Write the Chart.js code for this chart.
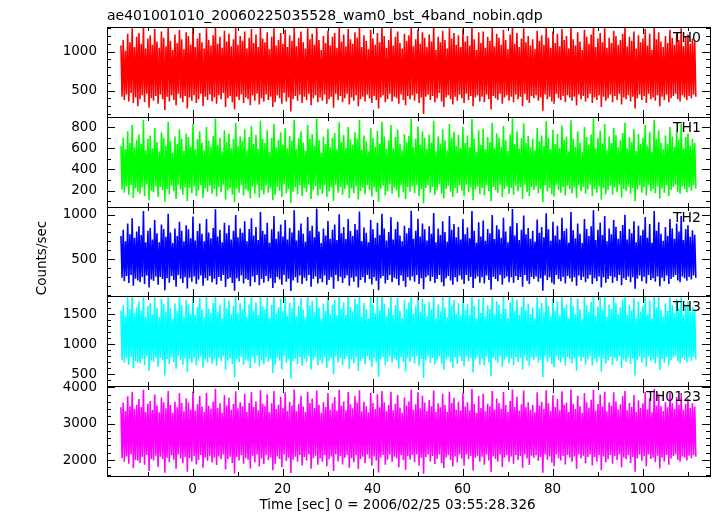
<!DOCTYPE html>
<html>
<head>
<meta charset="utf-8">
<title>ae401001010 WAM light curve</title>
<script src="https://cdn.jsdelivr.net/npm/chart.js"></script>
<style>
  html, body { margin: 0; padding: 0; background: #fff; }
  #lc { display: block; }
</style>
</head>
<body>
<canvas id="lc" width="717" height="516"></canvas>
<script>
// light curve samples: time of first sample (sec) and spacing
// values are read as upper / lower envelope pairs of the dense curve
const binStart = -15.9;
const binWidth = 0.25;

const bandNames = ['TH0', 'TH1', 'TH2', 'TH3', 'TH0123'];
const bandColors = ['#ff0000', '#00ff00', '#0000ff', '#00ffff', '#ff00ff'];

// counts/sec
const th0 = [
  1080, 420, 1150, 380, 1010, 450, 1230, 360, 1120, 470, 1300, 340, 1060, 410, 1190, 300,
  1240, 390, 1100, 440, 1330, 350, 1040, 460, 1170, 280, 1210, 400, 1090, 370, 1290, 430,
  1130, 330, 1050, 450, 1260, 390, 1180, 250, 1070, 420, 1340, 360, 1140, 440, 1020, 380,
  1220, 310, 1110, 460, 1280, 400, 1160, 350, 1030, 430, 1250, 270, 1200, 410, 1090, 370,
  1320, 440, 1060, 340, 1170, 390, 1240, 460, 1120, 300, 1040, 420, 1300, 380, 1150, 450,
  1080, 360, 1210, 410, 1330, 330, 1100, 440, 1190, 390, 1050, 470, 1270, 290, 1130, 400,
  1230, 430, 1070, 350, 1160, 260, 1310, 420, 1090, 380, 1200, 450, 1140, 340, 1260, 410,
  1040, 390, 1180, 310, 1290, 440, 1110, 370, 1220, 460, 1060, 320, 1340, 400, 1170, 360,
  1120, 450, 1250, 380, 1030, 420, 1190, 290, 1300, 350, 1080, 440, 1150, 400, 1240, 330,
  1100, 470, 1280, 360, 1060, 410, 1210, 230, 1140, 390, 1330, 430, 1070, 370, 1180, 450,
  1260, 340, 1120, 420, 1040, 380, 1300, 460, 1160, 310, 1230, 400, 1090, 440, 1340, 350,
  1150, 410, 1020, 370, 1200, 450, 1110, 330, 1270, 390, 1080, 420, 1190, 280, 1240, 460,
  1050, 380, 1310, 430, 1130, 350, 1220, 400, 1070, 460, 1290, 320, 1160, 410, 1100, 370,
  1250, 440, 1180, 300, 1330, 390, 1060, 420, 1210, 360, 1140, 450, 1030, 400, 1280, 340,
  1170, 430, 1090, 380, 1240, 270, 1120, 410, 1320, 440, 1200, 350, 1050, 390, 1150, 460,
  1300, 360, 1080, 420, 1190, 400, 1260, 330, 1110, 450, 1040, 380, 1230, 310, 1140, 430,
  1210, 390, 1330, 440, 1070, 370, 1160, 460, 1280, 340, 1100, 410, 1250, 200, 1180, 420,
  1060, 450, 1220, 380, 1130, 430, 1340, 350, 1020, 400, 1190, 470, 1120, 360, 1270, 290,
  1150, 410, 1040, 440, 1300, 390, 1170, 320, 1240, 420, 1090, 370, 1210, 450, 1060, 400,
  1290, 340, 1130, 460, 1200, 380, 1080, 430, 1330, 300, 1160, 410, 1020, 440, 1250, 360,
  1110, 420, 1260, 350, 1050, 450, 1190, 390, 1140, 260, 1310, 430, 1070, 400, 1230, 380,
  1180, 460, 1090, 330, 1280, 410, 1150, 440, 1030, 370, 1220, 420, 1340, 350, 1100, 450,
  1240, 390, 1060, 420, 1170, 300, 1300, 460, 1120, 380, 1200, 340, 1080, 430, 1160, 400,
  1030, 440, 1270, 370, 1140, 410, 1210, 240, 1090, 450, 1320, 390, 1180, 420, 1050, 360,
  1260, 330, 1110, 460, 1230, 400, 1070, 380, 1290, 430, 1150, 350, 1200, 440, 1040, 410,
  1330, 370, 1160, 420, 1080, 310, 1250, 450, 1130, 390, 1020, 430, 1280, 360, 1190, 400,
  1100, 460, 1220, 340, 1340, 410, 1060, 380, 1170, 440, 1240, 290, 1120, 420, 1300, 370,
  1050, 400, 1180, 450, 1110, 350, 1270, 430, 1200, 380, 1090, 460, 1150, 320, 1230, 410,
  1310, 390, 1070, 440, 1190, 360, 1140, 420, 1260, 270, 1040, 400, 1210, 450, 1120, 380,
  1170, 430, 1290, 340, 1080, 460, 1230, 390, 1020, 410, 1330, 370, 1160, 440, 1250, 300,
  1130, 420, 1060, 380, 1200, 450, 1110, 350, 1280, 400, 1180, 430, 1090, 460, 1240, 390,
  1150, 360, 1300, 440, 1070, 410, 1190, 380, 1220, 430, 1100, 400, 1170, 450, 1130, 420
];
const th1 = [
  620, 210, 700, 180, 590, 240, 760, 160, 650, 250, 820, 130, 610, 220, 680, 190,
  730, 170, 640, 230, 870, 150, 580, 260, 690, 110, 720, 200, 600, 185, 790, 240,
  660, 140, 570, 235, 750, 205, 700, 95, 625, 215, 850, 165, 670, 245, 560, 195,
  710, 120, 640, 255, 780, 210, 690, 160, 575, 230, 740, 100, 705, 225, 615, 175,
  830, 240, 590, 150, 685, 200, 760, 250, 655, 130, 580, 220, 800, 190, 670, 245,
  615, 170, 715, 215, 880, 145, 630, 235, 700, 185, 570, 255, 770, 115, 660, 205,
  740, 225, 600, 160, 690, 90, 840, 220, 620, 180, 710, 250, 665, 155, 780, 210,
  580, 195, 705, 125, 810, 240, 640, 170, 725, 255, 595, 135, 860, 205, 690, 165,
  650, 245, 770, 180, 565, 220, 700, 110, 830, 160, 610, 235, 680, 200, 750, 140,
  630, 260, 790, 175, 600, 215, 715, 85, 670, 190, 870, 230, 590, 165, 695, 250,
  760, 150, 655, 225, 575, 185, 820, 255, 690, 120, 735, 205, 620, 240, 880, 155,
  680, 210, 560, 170, 710, 250, 640, 140, 785, 195, 610, 230, 700, 105, 745, 255,
  590, 180, 845, 235, 660, 160, 725, 215, 605, 250, 800, 130, 685, 220, 635, 175,
  750, 240, 695, 115, 870, 195, 585, 225, 720, 165, 665, 250, 570, 205, 790, 145,
  700, 230, 615, 185, 765, 95, 645, 215, 850, 245, 710, 155, 595, 195, 675, 260,
  820, 170, 600, 225, 705, 205, 775, 135, 640, 250, 580, 185, 735, 120, 660, 235,
  715, 190, 880, 240, 610, 175, 690, 255, 805, 150, 630, 215, 760, 80, 700, 225,
  595, 250, 730, 180, 655, 235, 860, 160, 570, 205, 710, 260, 645, 170, 780, 125,
  675, 215, 580, 245, 830, 190, 700, 140, 755, 225, 620, 175, 725, 250, 600, 200,
  800, 150, 650, 255, 720, 185, 610, 230, 875, 110, 690, 210, 565, 240, 770, 165,
  630, 225, 785, 155, 590, 250, 705, 195, 660, 100, 840, 235, 605, 205, 740, 180,
  700, 255, 615, 140, 810, 215, 680, 240, 575, 170, 730, 225, 880, 160, 640, 245,
  760, 195, 595, 230, 695, 120, 835, 255, 650, 185, 715, 150, 610, 235, 690, 205,
  580, 240, 790, 175, 665, 215, 720, 90, 620, 250, 855, 195, 700, 225, 590, 165,
  775, 145, 640, 255, 735, 205, 605, 180, 815, 235, 680, 155, 710, 245, 570, 215,
  865, 175, 690, 230, 615, 130, 760, 250, 655, 195, 565, 235, 800, 170, 705, 210,
  635, 255, 730, 150, 880, 215, 600, 180, 695, 240, 765, 115, 645, 225, 830, 165,
  585, 205, 710, 245, 650, 160, 790, 230, 725, 185, 610, 255, 680, 135, 745, 215,
  840, 195, 600, 240, 705, 170, 660, 225, 780, 100, 575, 210, 735, 250, 640, 180,
  700, 230, 820, 155, 620, 255, 755, 195, 565, 215, 870, 175, 690, 240, 770, 125,
  655, 220, 590, 180, 720, 250, 640, 150, 800, 205, 710, 235, 615, 255, 760, 190,
  680, 170, 830, 240, 600, 215, 705, 185, 740, 230, 625, 200, 690, 250, 650, 220
];
const th2 = [
  760, 290, 830, 250, 700, 310, 900, 230, 780, 320, 960, 200, 740, 280, 810, 260,
  870, 240, 770, 300, 1040, 220, 690, 315, 820, 180, 850, 270, 720, 255, 940, 305,
  790, 210, 690, 300, 890, 275, 840, 150, 750, 285, 1010, 235, 800, 310, 680, 265,
  845, 190, 760, 320, 920, 280, 820, 230, 700, 295, 880, 170, 835, 290, 735, 245,
  980, 305, 710, 220, 815, 270, 900, 315, 785, 200, 700, 285, 950, 260, 800, 310,
  735, 240, 850, 280, 1060, 215, 755, 300, 830, 255, 690, 320, 910, 185, 790, 275,
  880, 290, 720, 230, 820, 145, 995, 285, 745, 250, 845, 315, 795, 225, 925, 280,
  700, 265, 840, 195, 960, 305, 765, 240, 860, 320, 715, 205, 1030, 275, 820, 235,
  780, 310, 910, 250, 685, 285, 835, 175, 985, 230, 730, 300, 810, 270, 890, 210,
  755, 320, 940, 245, 720, 280, 850, 140, 800, 260, 1050, 295, 710, 235, 825, 315,
  900, 220, 785, 290, 695, 255, 975, 320, 820, 190, 875, 275, 745, 305, 1070, 225,
  810, 280, 680, 240, 845, 315, 765, 210, 930, 265, 730, 295, 830, 165, 890, 320,
  715, 250, 1005, 300, 790, 230, 860, 285, 725, 315, 950, 200, 815, 290, 760, 245,
  895, 305, 830, 180, 1035, 265, 700, 295, 855, 235, 795, 320, 690, 275, 940, 215,
  835, 295, 740, 255, 910, 150, 770, 285, 1010, 310, 845, 225, 710, 265, 805, 320,
  970, 240, 720, 290, 840, 275, 920, 205, 765, 315, 700, 255, 875, 185, 790, 300,
  850, 260, 1045, 305, 730, 245, 820, 320, 955, 220, 755, 285, 900, 160, 835, 295,
  710, 315, 870, 250, 785, 300, 1020, 230, 690, 275, 845, 320, 770, 240, 925, 195,
  805, 285, 695, 310, 985, 260, 830, 210, 895, 295, 745, 245, 860, 315, 720, 270,
  950, 220, 780, 320, 855, 255, 735, 300, 1040, 175, 820, 280, 685, 305, 915, 235,
  755, 295, 935, 225, 705, 315, 840, 265, 790, 155, 995, 300, 725, 275, 880, 250,
  835, 320, 740, 210, 965, 285, 810, 305, 690, 240, 870, 295, 1065, 230, 765, 310,
  905, 265, 715, 300, 830, 190, 990, 320, 780, 255, 850, 220, 730, 300, 820, 275,
  695, 305, 945, 245, 795, 285, 860, 145, 745, 315, 1015, 265, 835, 295, 705, 235,
  920, 215, 765, 320, 875, 275, 720, 250, 965, 300, 815, 225, 845, 310, 685, 285,
  1030, 245, 825, 295, 735, 200, 900, 315, 785, 265, 680, 300, 950, 240, 840, 280,
  760, 320, 870, 220, 1050, 285, 715, 250, 830, 305, 910, 180, 770, 295, 985, 235,
  700, 275, 845, 310, 780, 230, 940, 295, 865, 255, 730, 320, 815, 205, 885, 285,
  1000, 265, 720, 305, 840, 240, 790, 295, 925, 165, 690, 280, 875, 315, 765, 250,
  830, 300, 975, 225, 740, 320, 895, 265, 685, 285, 1040, 245, 820, 305, 915, 195,
  785, 290, 705, 250, 860, 315, 760, 220, 950, 275, 845, 300, 730, 320, 900, 260,
  810, 240, 985, 305, 715, 285, 840, 255, 880, 300, 750, 270, 825, 315, 775, 290
];
const th3 = [
  1560, 740, 1650, 690, 1480, 770, 1790, 660, 1590, 790, 1840, 600, 1520, 720, 1620, 700,
  1720, 680, 1570, 760, 1850, 650, 1460, 800, 1640, 560, 1690, 730, 1500, 710, 1800, 780,
  1600, 620, 1450, 770, 1760, 735, 1670, 480, 1540, 755, 1830, 670, 1610, 785, 1430, 705,
  1680, 590, 1560, 800, 1810, 740, 1650, 660, 1470, 765, 1740, 540, 1665, 750, 1510, 690,
  1840, 775, 1490, 650, 1620, 725, 1780, 795, 1580, 610, 1455, 745, 1820, 700, 1595, 780,
  1525, 675, 1690, 745, 1850, 640, 1545, 770, 1660, 715, 1440, 800, 1770, 570, 1600, 735,
  1730, 760, 1500, 670, 1640, 450, 1835, 755, 1530, 700, 1685, 790, 1585, 655, 1800, 740,
  1465, 720, 1670, 600, 1825, 780, 1565, 685, 1700, 800, 1490, 630, 1850, 735, 1640, 665,
  1580, 785, 1790, 710, 1445, 750, 1655, 520, 1840, 660, 1515, 770, 1620, 725, 1760, 585,
  1550, 800, 1815, 690, 1480, 745, 1695, 430, 1605, 715, 1850, 760, 1470, 670, 1640, 790,
  1775, 640, 1575, 755, 1450, 705, 1830, 800, 1650, 580, 1725, 740, 1535, 780, 1845, 650,
  1615, 735, 1435, 680, 1680, 790, 1560, 610, 1805, 720, 1500, 765, 1660, 500, 1745, 800,
  1485, 695, 1850, 770, 1590, 655, 1700, 750, 1495, 795, 1820, 590, 1625, 745, 1545, 685,
  1765, 780, 1670, 555, 1845, 720, 1460, 760, 1690, 665, 1585, 800, 1440, 730, 1815, 625,
  1660, 770, 1520, 700, 1795, 460, 1570, 745, 1840, 790, 1680, 650, 1475, 715, 1610, 800,
  1825, 690, 1495, 760, 1650, 735, 1780, 595, 1555, 785, 1440, 705, 1735, 545, 1590, 770,
  1700, 710, 1850, 790, 1510, 680, 1630, 800, 1810, 640, 1540, 755, 1760, 440, 1675, 740,
  1470, 795, 1710, 690, 1580, 770, 1845, 660, 1435, 730, 1665, 800, 1550, 675, 1790, 575,
  1615, 745, 1450, 785, 1830, 705, 1640, 610, 1740, 775, 1505, 670, 1685, 795, 1480, 720,
  1800, 635, 1575, 800, 1675, 715, 1495, 770, 1850, 530, 1645, 750, 1430, 780, 1755, 660,
  1525, 760, 1780, 650, 1470, 795, 1650, 700, 1590, 470, 1835, 770, 1500, 730, 1720, 690,
  1655, 800, 1515, 620, 1815, 745, 1595, 785, 1445, 680, 1700, 765, 1850, 655, 1560, 790,
  1745, 705, 1490, 770, 1625, 580, 1840, 800, 1570, 725, 1680, 640, 1505, 780, 1615, 745,
  1440, 785, 1805, 690, 1600, 740, 1690, 450, 1530, 795, 1845, 710, 1640, 770, 1475, 665,
  1770, 615, 1560, 800, 1715, 735, 1485, 700, 1825, 775, 1610, 645, 1665, 790, 1435, 750,
  1850, 685, 1635, 765, 1510, 560, 1760, 795, 1585, 720, 1430, 780, 1800, 660, 1650, 745,
  1540, 800, 1705, 640, 1850, 755, 1480, 690, 1630, 785, 1785, 540, 1575, 760, 1830, 675,
  1460, 730, 1665, 790, 1590, 655, 1810, 770, 1695, 715, 1505, 800, 1620, 600, 1750, 745,
  1840, 705, 1490, 780, 1660, 670, 1570, 760, 1775, 480, 1445, 740, 1715, 795, 1545, 690,
  1640, 770, 1820, 625, 1500, 800, 1730, 725, 1435, 750, 1850, 680, 1620, 785, 1790, 570,
  1575, 745, 1465, 690, 1685, 790, 1555, 650, 1815, 735, 1650, 775, 1520, 800, 1760, 715,
  1600, 680, 1800, 770, 1490, 740, 1640, 700, 1720, 780, 1545, 720, 1620, 790, 1580, 750
];
const th0123 = [
  3450, 2050, 3580, 1950, 3350, 2100, 3750, 1900, 3480, 2150, 3880, 1780, 3400, 2000, 3520, 1980,
  3680, 1920, 3460, 2080, 3930, 1870, 3320, 2140, 3550, 1700, 3620, 2020, 3380, 1990, 3800, 2120,
  3500, 1810, 3310, 2090, 3720, 2030, 3590, 1650, 3420, 2060, 3900, 1940, 3510, 2130, 3300, 2010,
  3600, 1760, 3450, 2150, 3840, 2040, 3570, 1910, 3340, 2080, 3700, 1680, 3580, 2050, 3390, 1960,
  3880, 2110, 3360, 1880, 3530, 2000, 3760, 2140, 3470, 1790, 3320, 2060, 3850, 1980, 3490, 2120,
  3410, 1930, 3600, 2070, 3950, 1860, 3430, 2100, 3560, 2020, 3300, 2150, 3780, 1740, 3500, 2030,
  3710, 2090, 3380, 1920, 3540, 1630, 3890, 2080, 3420, 1990, 3590, 2130, 3480, 1900, 3820, 2050,
  3330, 2010, 3570, 1770, 3870, 2120, 3460, 1940, 3610, 2150, 3370, 1820, 3920, 2040, 3550, 1890,
  3480, 2130, 3800, 2000, 3310, 2070, 3560, 1720, 3900, 1900, 3400, 2100, 3520, 2030, 3740, 1800,
  3440, 2150, 3860, 1970, 3350, 2060, 3600, 1640, 3500, 2010, 3940, 2090, 3340, 1950, 3540, 2140,
  3770, 1850, 3470, 2080, 3320, 1990, 3880, 2150, 3570, 1760, 3690, 2050, 3430, 2120, 3910, 1870,
  3520, 2040, 3300, 1950, 3590, 2140, 3460, 1830, 3840, 2020, 3380, 2100, 3560, 1700, 3730, 2150,
  3360, 1960, 3930, 2110, 3490, 1880, 3610, 2060, 3370, 2140, 3870, 1790, 3530, 2050, 3420, 1940,
  3760, 2130, 3580, 1750, 3920, 2020, 3340, 2090, 3600, 1910, 3480, 2150, 3310, 2040, 3850, 1840,
  3570, 2100, 3400, 1990, 3810, 1660, 3450, 2070, 3900, 2140, 3590, 1870, 3350, 2010, 3510, 2150,
  3880, 1950, 3370, 2090, 3550, 2040, 3790, 1800, 3440, 2130, 3300, 2000, 3720, 1730, 3490, 2110,
  3610, 2010, 3940, 2140, 3390, 1940, 3530, 2150, 3860, 1850, 3420, 2060, 3770, 1620, 3580, 2080,
  3350, 2150, 3650, 1960, 3480, 2110, 3910, 1890, 3320, 2030, 3560, 2150, 3450, 1920, 3820, 1780,
  3510, 2070, 3330, 2130, 3880, 2000, 3570, 1820, 3710, 2100, 3380, 1930, 3600, 2150, 3360, 2040,
  3850, 1840, 3470, 2150, 3590, 2020, 3370, 2110, 3950, 1710, 3540, 2060, 3300, 2120, 3760, 1950,
  3430, 2090, 3820, 1870, 3340, 2150, 3550, 1990, 3480, 1670, 3900, 2100, 3390, 2030, 3690, 1960,
  3570, 2150, 3410, 1810, 3870, 2070, 3510, 2130, 3320, 1950, 3620, 2100, 3940, 1900, 3460, 2140,
  3740, 2000, 3360, 2110, 3530, 1790, 3910, 2150, 3450, 2040, 3590, 1860, 3380, 2120, 3520, 2060,
  3310, 2130, 3860, 1970, 3500, 2080, 3600, 1650, 3410, 2150, 3920, 2010, 3560, 2100, 3350, 1930,
  3780, 1830, 3460, 2150, 3680, 2050, 3370, 1990, 3890, 2110, 3520, 1880, 3580, 2140, 3320, 2070,
  3940, 1950, 3550, 2100, 3400, 1760, 3770, 2150, 3480, 2040, 3300, 2120, 3840, 1910, 3590, 2080,
  3440, 2150, 3660, 1850, 3930, 2080, 3360, 1960, 3540, 2130, 3800, 1720, 3470, 2100, 3880, 1940,
  3340, 2030, 3580, 2140, 3490, 1900, 3860, 2110, 3610, 2000, 3390, 2150, 3530, 1800, 3750, 2070,
  3900, 2020, 3370, 2130, 3570, 1920, 3460, 2080, 3790, 1680, 3330, 2050, 3640, 2150, 3430, 1980,
  3560, 2110, 3870, 1830, 3390, 2150, 3700, 2030, 3310, 2070, 3950, 1940, 3500, 2120, 3820, 1770,
  3480, 2060, 3350, 1960, 3590, 2140, 3450, 1870, 3860, 2040, 3560, 2110, 3400, 2150, 3730, 2000,
  3520, 1950, 3840, 2100, 3380, 2060, 3540, 1990, 3680, 2120, 3430, 2050, 3560, 2130, 3470, 2090
];

// axis ranges and tick labels for each panel (top to bottom)
const yMins = [163, 49, 80, 300, 1560];
const yMaxs = [1317, 897, 1091, 1800, 4030];
const yTickLabels = [
  [500, 1000],
  [200, 400, 600, 800],
  [500, 1000],
  [500, 1000, 1500],
  [2000, 3000, 4000]
];
const yMajor = [500, 200, 500, 500, 1000];
const yMinor = [100, 100, 100, 100, 200];
const xMin = -19, xMax = 115;
const xTickLabels = [0, 20, 40, 60, 80, 100];

const series = [th0, th1, th2, th3, th0123];
const FONT = 'DejaVu Sans';

const datasets = series.map((vals, k) => ({
  label: bandNames[k],
  data: vals.map((v, i) => ({ x: binStart + i * binWidth, y: v })),
  yAxisID: 'y' + k,
  borderColor: bandColors[k],
  borderWidth: 1.6,
  borderJoinStyle: 'bevel',
  pointRadius: 0,
  tension: 0,
  fill: false
}));

const scales = {
  x: {
    type: 'linear',
    min: xMin,
    max: xMax,
    grid: { display: false, drawTicks: false },
    border: { display: false },
    afterBuildTicks: s => { s.ticks = xTickLabels.map(v => ({ value: v })); },
    ticks: {
      padding: 5,
      color: '#000',
      font: { family: FONT, size: 13.5 },
      maxRotation: 0,
      autoSkip: false,
      callback: v => String(v)
    },
    afterFit: s => { s.height = 40; }
  }
};
// stacked y axes: the last one defined ends up on top, so add them bottom first
for (let k = bandNames.length - 1; k >= 0; k--) {
  scales['y' + k] = {
    type: 'linear',
    position: 'left',
    stack: 'bands',
    stackWeight: 1,
    min: yMins[k],
    max: yMaxs[k],
    grid: { display: false, drawTicks: false },
    border: { display: false },
    afterBuildTicks: s => { s.ticks = yTickLabels[k].map(v => ({ value: v })); },
    ticks: {
      padding: 10,
      color: '#000',
      font: { family: FONT, size: 13.5 },
      autoSkip: false,
      callback: v => String(v)
    },
    afterFit: s => { s.width = 107; }
  };
}

// QDP-like frames, inward ticks and text
const qdpFrame = {
  id: 'qdpFrame',
  beforeDatasetDraw(chart, args) {
    const ys = chart.scales['y' + args.index];
    const a = chart.chartArea;
    chart.ctx.save();
    chart.ctx.beginPath();
    chart.ctx.rect(a.left, ys.top, a.right - a.left, ys.bottom - ys.top);
    chart.ctx.clip();
  },
  afterDatasetDraw(chart) {
    chart.ctx.restore();
  },
  afterDraw(chart) {
    const ctx = chart.ctx;
    const a = chart.chartArea;
    const xs = chart.scales.x;
    ctx.save();
    ctx.strokeStyle = '#000';
    ctx.lineWidth = 1;
    bandNames.forEach((name, k) => {
      const ys = chart.scales['y' + k];
      const top = Math.round(ys.top), bot = Math.round(ys.bottom);
      ctx.strokeRect(Math.round(a.left) + 0.5, top + 0.5, Math.round(a.right - a.left), bot - top);
      ctx.beginPath();
      // y ticks on both sides
      for (let v = Math.ceil(yMins[k] / yMinor[k]) * yMinor[k]; v <= yMaxs[k]; v += yMinor[k]) {
        const py = Math.round(ys.getPixelForValue(v)) + 0.5;
        const len = v % yMajor[k] === 0 ? 8 : 4;
        ctx.moveTo(a.left, py); ctx.lineTo(a.left + len, py);
        ctx.moveTo(a.right, py); ctx.lineTo(a.right - len, py);
      }
      // x ticks on top and bottom of each panel
      for (let t = -10; t <= 110; t += 10) {
        const px = Math.round(xs.getPixelForValue(t)) + 0.5;
        const len = t % 20 === 0 ? 7 : 4;
        ctx.moveTo(px, top); ctx.lineTo(px, top + len);
        ctx.moveTo(px, bot); ctx.lineTo(px, bot - len);
      }
      ctx.stroke();
      // band name
      ctx.fillStyle = '#000';
      ctx.font = '14px "' + FONT + '"';
      ctx.textAlign = 'right';
      ctx.textBaseline = 'alphabetic';
      ctx.fillText(name, 701, top + 15);
    });

    ctx.fillStyle = '#000';
    ctx.textBaseline = 'alphabetic';
    ctx.font = '14px "' + FONT + '"';
    ctx.textAlign = 'left';
    ctx.fillText('ae401001010_20060225035528_wam0_bst_4band_nobin.qdp', 107, 20);

    ctx.font = '13.5px "' + FONT + '"';
    ctx.textAlign = 'center';
    ctx.fillText('Time [sec] 0 = 2006/02/25 03:55:28.326', 397.5, 509);

    ctx.translate(46, 258);
    ctx.rotate(-Math.PI / 2);
    ctx.fillText('Counts/sec', 0, 0);
    ctx.restore();
  }
};

new Chart(document.getElementById('lc'), {
  type: 'line',
  data: { datasets: datasets },
  options: {
    responsive: false,
    devicePixelRatio: 1,
    animation: false,
    events: [],
    layout: { padding: { left: 0, right: 7, top: 27, bottom: 0 } },
    plugins: {
      legend: { display: false },
      tooltip: { enabled: false },
      title: { display: false }
    },
    scales: scales
  },
  plugins: [qdpFrame]
});
</script>
</body>
</html>
